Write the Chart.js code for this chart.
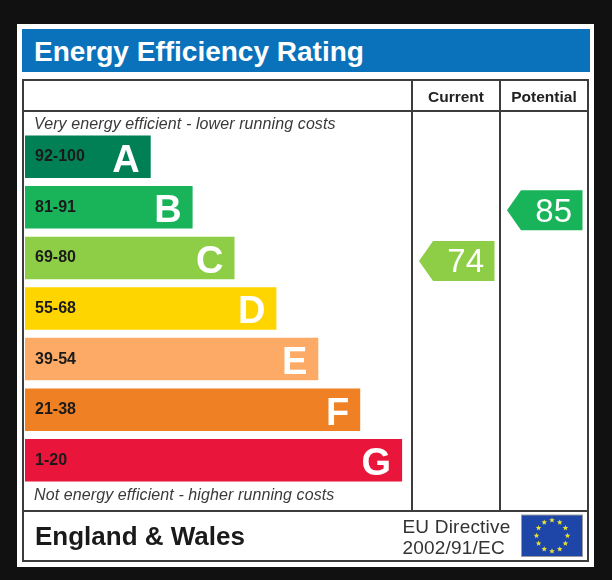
<!DOCTYPE html>
<html>
<head>
<meta charset="utf-8">
<title>Energy Efficiency Rating</title>
<script src="https://cdn.jsdelivr.net/npm/chart.js@4.4.1/dist/chart.umd.min.js"></script>
<style>
  html, body { margin: 0; padding: 0; background: #111; width: 612px; height: 580px; overflow: hidden; }
  body { position: relative; font-family: "Liberation Sans", Arial, sans-serif; }
  .abs { position: absolute; }
  .card { left: 17px; top: 24px; width: 577px; height: 543px; background: #fff; }
  .banner { left: 22px; top: 29px; width: 568px; height: 43px; background: #0a72bb; }
  .title { left: 34px; top: 37.5px; font-size: 28px; line-height: 28px; font-weight: bold; color: #fff; white-space: nowrap; }
  .frame { left: 22px; top: 79px; width: 567px; height: 483px; border: 2px solid #3c3c3c; box-sizing: border-box; }
  .hline { left: 22px; width: 567px; height: 2px; background: #3c3c3c; }
  .vline { top: 79px; width: 2px; height: 433px; background: #3c3c3c; }
  .colhead { top: 88.5px; width: 86px; text-align: center; font-size: 15.5px; line-height: 15.5px; font-weight: bold; color: #222; }
  .cap { left: 34px; font-size: 16px; line-height: 16px; font-style: italic; color: #3a3a3a; white-space: nowrap; letter-spacing: 0.1px; }
  .region { left: 35px; top: 523px; font-size: 26px; line-height: 26px; font-weight: bold; color: #1a1a1a; white-space: nowrap; }
  .eu { left: 402.5px; top: 516px; font-size: 19px; line-height: 21px; color: #333; white-space: nowrap; letter-spacing: 0.2px; }
  #chart { position: absolute; left: 0; top: 0; }
</style>
</head>
<body>
<div class="abs card"></div>
<div class="abs banner"></div>
<div class="abs title">Energy Efficiency Rating</div>
<div class="abs frame"></div>
<div class="abs hline" style="top:110px"></div>
<div class="abs hline" style="top:510px"></div>
<div class="abs vline" style="left:411px"></div>
<div class="abs vline" style="left:499px"></div>
<canvas id="chart" width="612" height="580"></canvas>
<div class="abs colhead" style="left:413px">Current</div>
<div class="abs colhead" style="left:501px">Potential</div>
<div class="abs cap" style="top:115.5px">Very energy efficient - lower running costs</div>
<div class="abs cap" style="top:487px">Not energy efficient - higher running costs</div>
<div class="abs region">England &amp; Wales</div>
<div class="abs eu">EU Directive<br>2002/91/EC</div>

<script>
// bands, top (most efficient) to bottom
const bands = ['A', 'B', 'C', 'D', 'E', 'F', 'G'];
const ranges = ['92-100', '81-91', '69-80', '55-68', '39-54', '21-38', '1-20'];
const bandMin = [92, 81, 69, 55, 39, 21, 1];
const barLength = [3, 4, 5, 6, 7, 8, 9];
const bandColours = ['#008054', '#19b459', '#8dce46', '#ffd500', '#fcaa65', '#ef8023', '#e9153b'];

const currentRating = 74;
const potentialRating = 85;

const FONT = '"Liberation Sans", Arial, sans-serif';

const bandOf = (rating) => bandMin.findIndex(m => rating >= m);

// letters at the end of each bar
const letterPlugin = {
    id: 'letters',
    afterDatasetsDraw(chart) {
        const ctx = chart.ctx;
        const meta = chart.getDatasetMeta(0);
        ctx.save();
        ctx.fillStyle = '#fff';
        ctx.font = 'bold 38px ' + FONT;
        ctx.textAlign = 'right';
        ctx.textBaseline = 'alphabetic';
        meta.data.forEach((bar, i) => {
            ctx.fillText(bands[i], bar.x - 11, bar.y + 14.8);
        });
        ctx.restore();
    }
};

// current / potential arrows + EU flag
const arrowPlugin = {
    id: 'arrows',
    afterDraw(chart) {
        const ctx = chart.ctx;
        const yScale = chart.scales.y;
        const cols = [
            { rating: currentRating, left: 412, right: 500 },
            { rating: potentialRating, left: 500, right: 588 }
        ];
        const h = 40;
        ctx.save();
        cols.forEach(col => {
            const idx = bandOf(col.rating);
            const cy = yScale.getPixelForValue(idx) + 3;
            const tip = col.left + 7;
            const shoulder = tip + 14;
            const end = col.right - 5.5;
            ctx.beginPath();
            ctx.moveTo(tip, cy);
            ctx.lineTo(shoulder, cy - h / 2);
            ctx.lineTo(end, cy - h / 2);
            ctx.lineTo(end, cy + h / 2);
            ctx.lineTo(shoulder, cy + h / 2);
            ctx.closePath();
            ctx.fillStyle = bandColours[idx];
            ctx.fill();

            ctx.fillStyle = '#fff';
            ctx.font = '33px ' + FONT;
            ctx.textAlign = 'right';
            ctx.textBaseline = 'alphabetic';
            ctx.fillText(String(col.rating), end - 10.5, cy + 11.5);
        });

        // EU flag
        const fx = 521.5, fy = 515, fw = 61, fh = 41.5;
        ctx.fillStyle = '#1d46a8';
        ctx.fillRect(fx, fy, fw, fh);
        ctx.strokeStyle = '#9a9a9a';
        ctx.lineWidth = 1;
        ctx.strokeRect(fx, fy, fw, fh);
        const cx = fx + fw / 2, cyf = fy + fh / 2;
        ctx.fillStyle = '#e8e03a';
        for (let k = 0; k < 12; k++) {
            const a = k * Math.PI / 6;
            const sx = cx + 15.5 * Math.sin(a);
            const sy = cyf - 15.5 * Math.cos(a);
            ctx.beginPath();
            for (let p = 0; p < 10; p++) {
                const r = p % 2 === 0 ? 2.9 : 1.3;
                const b = p * Math.PI / 5 - Math.PI / 2;
                ctx.lineTo(sx + r * Math.cos(b), sy + r * Math.sin(b));
            }
            ctx.closePath();
            ctx.fill();
        }
        ctx.restore();
    }
};

new Chart(document.getElementById('chart'), {
    type: 'bar',
    data: {
        labels: bands,
        datasets: [{
            data: barLength,
            backgroundColor: bandColours,
            borderWidth: 0,
            barPercentage: 0.84,
            categoryPercentage: 1.0
        }]
    },
    options: {
        indexAxis: 'y',
        responsive: false,
        animation: false,
        events: [],
        layout: { padding: { left: 5, right: 168, top: 131.4, bottom: 94.4 } },
        plugins: { legend: { display: false }, tooltip: { enabled: false } },
        scales: {
            x: { display: false, min: 0, max: 10 },
            y: {
                grid: { display: false, drawTicks: false },
                border: { display: false },
                ticks: {
                    z: 1,
                    mirror: true,
                    padding: 10,
                    color: '#1a1a1a',
                    font: { family: FONT, size: 16, weight: 'bold' },
                    callback: (value, index) => ranges[index]
                }
            }
        }
    },
    plugins: [letterPlugin, arrowPlugin]
});
</script>
</body>
</html>
